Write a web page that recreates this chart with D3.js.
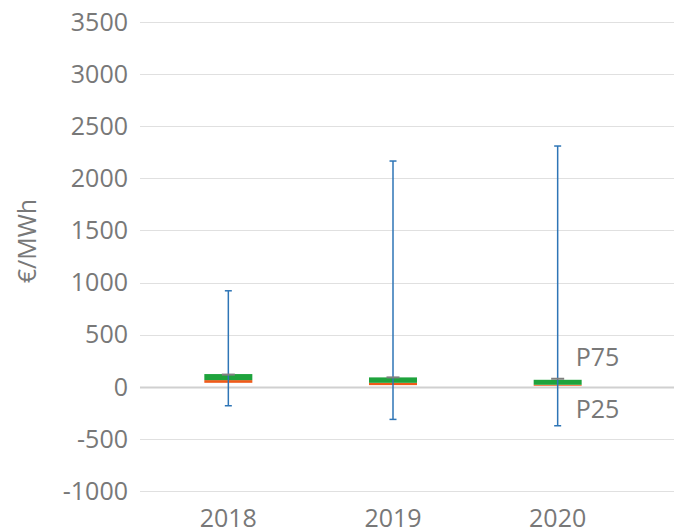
<!DOCTYPE html>
<html>
<head>
<meta charset="utf-8">
<script src="https://cdn.jsdelivr.net/npm/d3@7"></script>
<style>
  body { margin: 0; background: #fff; }
  text { font-family: "Open Sans", sans-serif; fill: #787878; }
</style>
</head>
<body>
<div id="chart"></div>
<script>
var w = 674;
var h = 530;

// data (€/MWh)
var years = ["2018", "2019", "2020"];
var minValues = [-182, -313, -374];
var p25Values = [38, 16, 10];
var medianValues = [64, 38, 19];
var p75Values = [122, 90, 67];
var meanValues = [117, 90, 77];
var maxValues = [921, 2166, 2310];
var yTicks = [-1000, -500, 0, 500, 1000, 1500, 2000, 2500, 3000, 3500];

var data = years.map(function (y, i) {
    return {
        year: y, min: minValues[i], p25: p25Values[i], median: medianValues[i],
        p75: p75Values[i], mean: meanValues[i], max: maxValues[i]
    };
});

var svg = d3.select("#chart")
    .append("svg")
    .attr("width", w)
    .attr("height", h);

var x = d3.scaleBand()
    .domain(years)
    .range([146, 640]);

var y = d3.scaleLinear()
    .domain([-1000, 3500])
    .range([491, 22]);

// gridlines
svg.append("g")
    .selectAll("line")
    .data(yTicks)
    .enter()
    .append("line")
    .attr("x1", 140)
    .attr("x2", w)
    .attr("y1", function (d) { return Math.round(y(d)) + 0.5; })
    .attr("y2", function (d) { return Math.round(y(d)) + 0.5; })
    .attr("stroke", function (d) { return d === 0 ? "#d0d0d0" : "#e0e0e0"; })
    .attr("stroke-width", function (d) { return d === 0 ? 2 : 1; });

// y tick labels
svg.append("g")
    .selectAll("text")
    .data(yTicks)
    .enter()
    .append("text")
    .attr("x", 128)
    .attr("y", function (d) { return y(d); })
    .attr("dy", "0.35em")
    .attr("text-anchor", "end")
    .attr("font-size", "25px")
    .text(function (d) { return d; });

// y title
svg.append("text")
    .attr("transform", "translate(36," + 241 + ") rotate(-90)")
    .attr("text-anchor", "middle")
    .attr("font-size", "25px")
    .text("€/MWh");

// x labels
svg.append("g")
    .selectAll("text")
    .data(years)
    .enter()
    .append("text")
    .attr("x", function (d) { return x(d) + x.bandwidth() / 2; })
    .attr("y", 527)
    .attr("text-anchor", "middle")
    .attr("font-size", "25px")
    .text(function (d) { return d; });

var boxW = 48;
var g = svg.selectAll(".box")
    .data(data)
    .enter()
    .append("g")
    .attr("class", "box")
    .attr("transform", function (d) { return "translate(" + (x(d.year) + x.bandwidth() / 2) + ",0)"; });

// orange: P25 to median
g.append("rect")
    .attr("x", -boxW / 2)
    .attr("width", boxW)
    .attr("y", function (d) { return y(d.median); })
    .attr("height", function (d) { return y(d.p25) - y(d.median); })
    .attr("fill", "#f05a1a");

// green: median to P75
g.append("rect")
    .attr("x", -boxW / 2)
    .attr("width", boxW)
    .attr("y", function (d) { return y(d.p75); })
    .attr("height", function (d) { return y(d.median) - y(d.p75); })
    .attr("fill", "#1ea33c");

// whiskers
g.append("line")
    .attr("x1", 0).attr("x2", 0)
    .attr("y1", function (d) { return y(d.max); })
    .attr("y2", function (d) { return y(d.min); })
    .attr("stroke", "#2e75b6")
    .attr("stroke-width", 1.5);

g.selectAll(".cap")
    .data(function (d) { return [d.max, d.min]; })
    .enter()
    .append("line")
    .attr("class", "cap")
    .attr("x1", -3.5).attr("x2", 3.5)
    .attr("y1", function (v) { return y(v); })
    .attr("y2", function (v) { return y(v); })
    .attr("stroke", "#2e75b6")
    .attr("stroke-width", 1.5);

// mean marker
g.append("rect")
    .attr("x", -6.5)
    .attr("width", 13)
    .attr("y", function (d) { return y(d.mean) - 1; })
    .attr("height", 2)
    .attr("fill", "#7f7f7f");

// P75 / P25 labels next to the last box
var last = data[data.length - 1];
var lx = x(last.year) + x.bandwidth() / 2 + 18;
svg.append("text")
    .attr("x", lx)
    .attr("y", 366)
    .attr("font-size", "25px")
    .text("P75");
svg.append("text")
    .attr("x", lx)
    .attr("y", 418)
    .attr("font-size", "25px")
    .text("P25");
</script>
</body>
</html>
